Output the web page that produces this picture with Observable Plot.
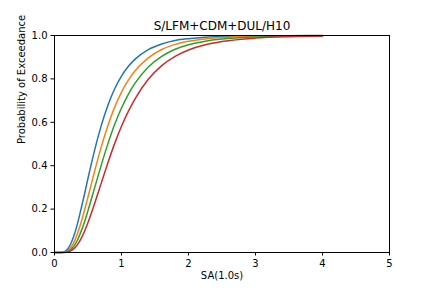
<!DOCTYPE html>
<html><head><meta charset="utf-8">
<script src="https://cdn.jsdelivr.net/npm/d3@7"></script>
<script src="https://cdn.jsdelivr.net/npm/@observablehq/plot@0.6"></script>
<style>body{margin:0;background:#fff;} </style>
</head><body><div id="chart"></div>
<script>
const title = "S/LFM+CDM+DUL/H10";
const xLabel = "SA(1.0s)";
const yLabel = "Probability of Exceedance";
const xTicks = [0, 1, 2, 3, 4, 5];
const yTicks = [0, 0.2, 0.4, 0.6, 0.8, 1.0];
const seriesNames = ["c1", "c2", "c3", "c4"];
const seriesColors = ["#1f77b4", "#ff7f0e", "#2ca02c", "#d62728"];
const sa = [0, 0.05, 0.1, 0.15, 0.2, 0.25, 0.3, 0.35, 0.4, 0.45, 0.5, 0.6, 0.7, 0.8, 0.9, 1.0, 1.1, 1.2, 1.4, 1.6, 1.8, 2.0, 2.25, 2.5, 3.0, 3.5, 4.0];
const c1 = [0, 0, 0.0003, 0.004, 0.017, 0.045, 0.086, 0.141, 0.205, 0.272, 0.342, 0.473, 0.587, 0.681, 0.756, 0.813, 0.857, 0.890, 0.935, 0.961, 0.977, 0.9855, 0.992, 0.9953, 0.9984, 0.9994, 0.9997];
const c2 = [0, 0, 0.0001, 0.0018, 0.009, 0.0255, 0.0536, 0.093, 0.142, 0.197, 0.256, 0.376, 0.489, 0.588, 0.671, 0.739, 0.793, 0.836, 0.897, 0.9355, 0.959, 0.9735, 0.9844, 0.9906, 0.9965, 0.9986, 0.9994];
const c3 = [0, 0, 0.0001, 0.0009, 0.005, 0.0153, 0.0342, 0.0624, 0.0996, 0.143, 0.193, 0.299, 0.405, 0.504, 0.592, 0.666, 0.728, 0.779, 0.855, 0.904, 0.9366, 0.9576, 0.974, 0.9838, 0.9935, 0.9972, 0.9987];
const c4 = [0, 0, 0, 0.0004, 0.0025, 0.0085, 0.0204, 0.0395, 0.066, 0.099, 0.138, 0.227, 0.322, 0.416, 0.504, 0.582, 0.649, 0.707, 0.798, 0.861, 0.904, 0.9333, 0.9574, 0.9724, 0.9881, 0.9946, 0.9974];

const seriesValues = [c1, c2, c3, c4];
const rows = [];
seriesValues.forEach((vals, i) => {
  vals.forEach((v, j) => rows.push({series: seriesNames[i], x: sa[j], y: v}));
});

const chart = Plot.plot({
  width: 432,
  height: 288,
  marginLeft: 54,
  marginRight: 43,
  marginTop: 35,
  marginBottom: 36,
  style: {fontFamily: "DejaVu Sans", fontSize: "10px", color: "#000", background: "#fff", overflow: "visible"},
  x: {domain: [0, 5]},
  y: {domain: [0, 1]},
  color: {domain: seriesNames, range: seriesColors},
  marks: [
    Plot.line(rows, {x: "x", y: "y", z: "series", stroke: "series", strokeWidth: 1.5, curve: "monotone-x"}),
    Plot.frame({stroke: "#000", strokeWidth: 1}),
    Plot.axisX({ticks: xTicks, tickSize: 3.5, tickPadding: 3.5, tickFormat: d3.format("d"), label: null, fontSize: 10, stroke: "#000"}),
    Plot.axisY({ticks: yTicks, tickSize: 3.5, tickPadding: 3.5, tickFormat: d3.format(".1f"), label: null, fontSize: 10, stroke: "#000"}),
    Plot.text([title], {frameAnchor: "top", dy: -14, fontSize: 12, fill: "#000"}),
    Plot.text([xLabel], {frameAnchor: "bottom", dy: 26, fontSize: 10, fill: "#000"}),
    Plot.text([yLabel], {frameAnchor: "left", dx: -33, rotate: -90, fontSize: 10, fill: "#000"})
  ]
});
document.getElementById("chart").appendChild(chart);
</script>
</body></html>
